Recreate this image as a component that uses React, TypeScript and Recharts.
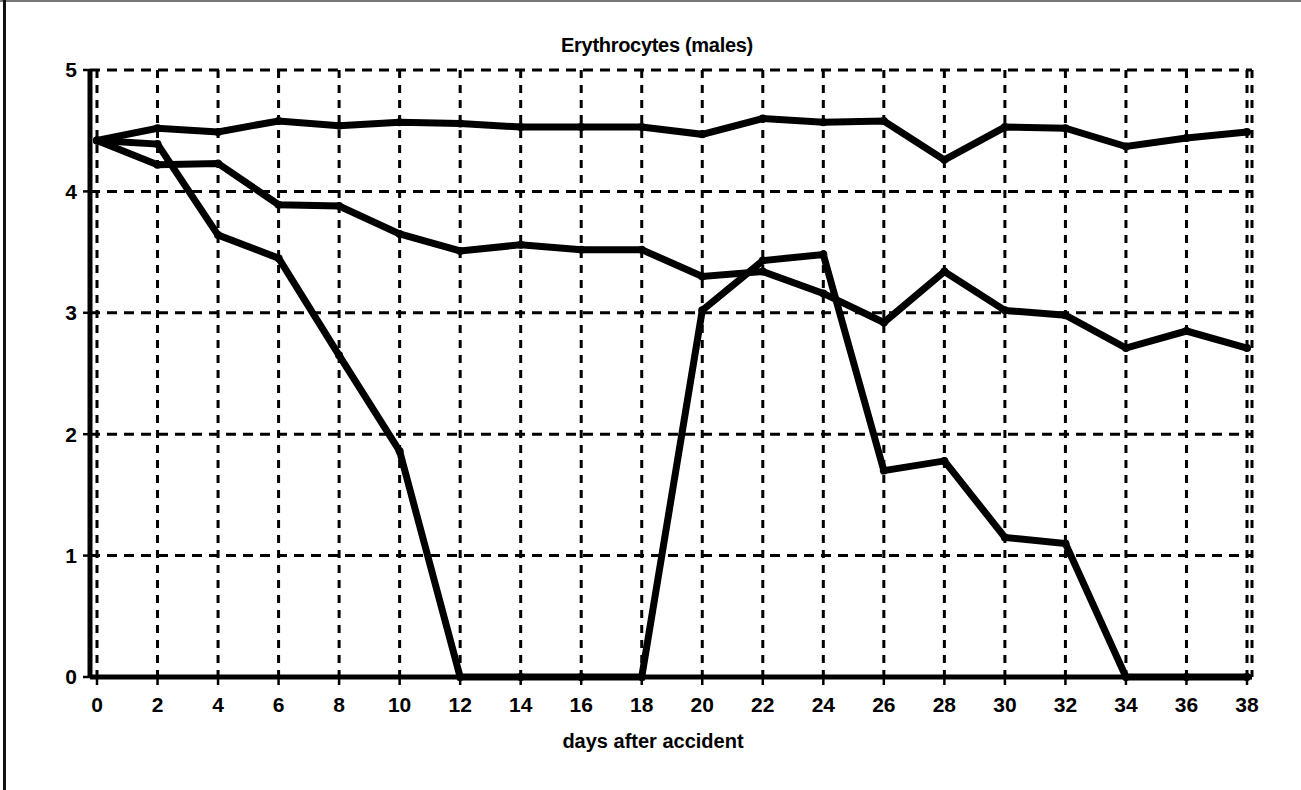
import { CartesianGrid, Line, LineChart, XAxis, YAxis } from "recharts";

const days = [0, 2, 4, 6, 8, 10, 12, 14, 16, 18, 20, 22, 24, 26, 28, 30, 32, 34, 36, 38];
const seriesHigh = [4.42, 4.52, 4.49, 4.58, 4.54, 4.57, 4.56, 4.53, 4.53, 4.53, 4.47, 4.6, 4.57, 4.58, 4.26, 4.53, 4.52, 4.37, 4.44, 4.49];
const seriesMid = [4.42, 4.22, 4.23, 3.89, 3.88, 3.65, 3.51, 3.56, 3.52, 3.52, 3.3, 3.34, 3.16, 2.92, 3.34, 3.02, 2.98, 2.71, 2.85, 2.71];
const seriesLow = [4.42, 4.39, 3.64, 3.45, 2.65, 1.86, 0, 0, 0, 0, 3.02, 3.43, 3.48, 1.7, 1.78, 1.15, 1.1, 0, 0, 0];
const yTicks = [0, 1, 2, 3, 4, 5];

const data = days.map((day, i) => ({
  day,
  high: seriesHigh[i],
  mid: seriesMid[i],
  low: seriesLow[i],
}));

const font = "'Liberation Sans', Arial, sans-serif";
const tickStyle = { fill: "#000", fontSize: 21, fontWeight: 700, fontFamily: font };
const dotStyle = { r: 4, fill: "#000", stroke: "none" };

export default function App() {
  return (
    <div style={{ position: "absolute", left: 0, top: 0, width: 1301, height: 790, background: "#fff", fontFamily: font }}>
      <div style={{ position: "absolute", left: 0, top: 0, width: 1301, height: 2, background: "#777" }} />
      <div style={{ position: "absolute", left: 3, top: 0, width: 3, height: 790, background: "#111" }} />
      <div
        style={{
          position: "absolute",
          left: 457,
          top: 35,
          width: 400,
          textAlign: "center",
          fontSize: 20,
          lineHeight: "20px",
          fontWeight: 700,
          color: "#000",
          letterSpacing: -0.3,
        }}
      >
        Erythrocytes (males)
      </div>
      <LineChart width={1301} height={790} data={data} margin={{ top: 70, right: 49, bottom: 0, left: 0 }}>
        <CartesianGrid vertical={false} stroke="#000" strokeWidth={3} strokeDasharray="10 7" />
        <CartesianGrid horizontal={false} stroke="#000" strokeWidth={3} strokeDasharray="8 7" />
        <XAxis
          dataKey="day"
          type="number"
          domain={[0, 38]}
          ticks={days}
          interval={0}
          padding={{ left: 7, right: 5 }}
          height={113}
          tickSize={8}
          tickMargin={12}
          axisLine={{ stroke: "#000", strokeWidth: 5 }}
          tickLine={{ stroke: "#000", strokeWidth: 2.5 }}
          tick={tickStyle}
          label={{
            value: "days after accident",
            position: "insideBottom",
            offset: 42,
            dx: -18,
            fill: "#000",
            fontSize: 20,
            fontWeight: 700,
            fontFamily: font,
          }}
        />
        <XAxis
          xAxisId="top"
          orientation="top"
          dataKey="day"
          type="number"
          domain={[0, 38]}
          padding={{ left: 7, right: 5 }}
          height={0}
          tick={false}
          tickLine={false}
          axisLine={{ stroke: "#000", strokeWidth: 3 }}
        />
        <YAxis
          domain={[0, 5]}
          ticks={yTicks}
          interval={0}
          width={90}
          tickSize={7}
          tickMargin={6}
          axisLine={{ stroke: "#000", strokeWidth: 5 }}
          tickLine={{ stroke: "#000", strokeWidth: 2.5 }}
          tick={tickStyle}
        />
        <YAxis
          yAxisId="right"
          orientation="right"
          domain={[0, 5]}
          width={0}
          tick={false}
          tickLine={false}
          axisLine={{ stroke: "#000", strokeWidth: 3 }}
        />
        <Line dataKey="high" type="linear" stroke="#000" strokeWidth={7} dot={dotStyle} isAnimationActive={false} />
        <Line dataKey="mid" type="linear" stroke="#000" strokeWidth={7} dot={dotStyle} isAnimationActive={false} />
        <Line dataKey="low" type="linear" stroke="#000" strokeWidth={7} dot={dotStyle} isAnimationActive={false} />
      </LineChart>
    </div>
  );
}
